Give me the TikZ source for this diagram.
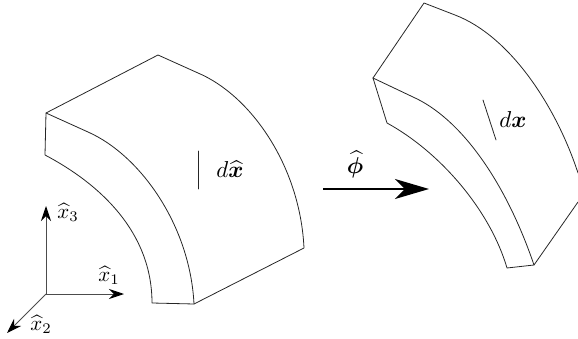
\documentclass[tikz,border=0pt]{standalone}
\usepackage{amsmath,bm}
\usetikzlibrary{arrows.meta}
\tikzset{
  edge/.style={line width=0.8pt,black!85,line cap=round,line join=round},
  axis/.style={line width=0.9pt,black!70,-{Stealth[length=15pt,width=10pt,inset=5pt,black]}},
  bigarrow/.style={line width=1.5pt,black,-{Stealth[length=34pt,width=20pt,inset=10pt]}},
  lblbig/.style={inner sep=0pt,scale=2.3},
  lblax/.style={inner sep=0pt,scale=2.1}
}
\begin{document}
\begin{tikzpicture}[x=1pt,y=-1pt]
\useasboundingbox (0,0) rectangle (578,339);
% left block
\coordinate (a) at (46,113);
\coordinate (b) at (158,55);
\coordinate (c) at (198,73);
\coordinate (d) at (304,248);
\coordinate (e) at (194,304);
\coordinate (f) at (152,303);
\coordinate (g) at (45,155);
\draw[edge] (a) -- (b) -- (c) .. controls (250,95) and (300,165) .. (d) -- (e) -- (f)
  .. controls (152,232) and (100,184) .. (g) -- (a);
\draw[edge] (a) -- (88,132) .. controls (140,155) and (190,225) .. (e);
% right block
\coordinate (p) at (373,78);
\coordinate (q) at (424,3);
\coordinate (r) at (455,15);
\coordinate (s) at (534,265);
\coordinate (t) at (507,268);
\coordinate (u) at (387,123);
\coordinate (ex1) at (578,173);
\coordinate (ex2) at (578,202);
\draw[edge] (p) -- (q) -- (r) .. controls (510,36) and (556,106) .. (ex1);
\draw[edge] (ex2) -- (s) -- (t) .. controls (490,210) and (440,152) .. (u) -- (p);
\draw[edge] (p) -- (413,97) .. controls (460,118) and (505,180) .. (s);
% line elements
\coordinate (m1) at (198,151);
\coordinate (m2) at (198,189);
\draw[edge] (m1) -- (m2);
\coordinate (n1) at (483,100);
\coordinate (n2) at (496,140);
\draw[edge] (n1) -- (n2);
\node[lblbig] (dxh) at (230,169) {$d\widehat{\bm{x}}$};
\node[lblbig] (dx) at (513,120) {$d\bm{x}$};
% map arrow
\coordinate (ar1) at (323,189);
\coordinate (ar2) at (429,189);
\draw[bigarrow] (ar1) -- (ar2);
\node[lblbig] (phi) at (355,164) {$\widehat{\bm{\phi}}$};
% axes
\coordinate (o) at (46,294);
\coordinate (x2) at (7,333);
\coordinate (x3) at (46,206);
\coordinate (xe) at (124,294);
\draw[axis] (o) -- (xe);
\draw[axis] (o) -- (x2);
\draw[axis] (o) -- (x3);
\node[lblax] (l1) at (109,275) {$\widehat{x}_1$};
\node[lblax] (l2) at (41,324) {$\widehat{x}_2$};
\node[lblax] (l3) at (68,212) {$\widehat{x}_3$};
\end{tikzpicture}
\end{document}
